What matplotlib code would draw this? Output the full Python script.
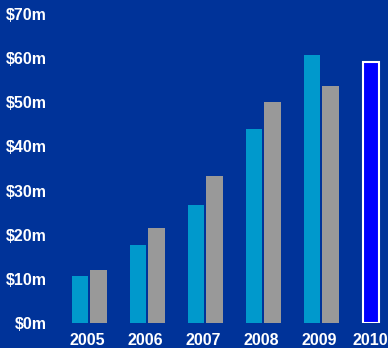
import matplotlib
matplotlib.use("Agg")
import matplotlib.pyplot as plt
import numpy as np

# values in $m
years = ["2005", "2006", "2007", "2008", "2009", "2010"]
series_a = [10.7, 17.6, 26.7, 43.9, 60.6]   # cyan bars, 2005-2009
series_b = [12.0, 21.5, 33.3, 50.0, 53.8]   # grey bars, 2005-2009
forecast_2010 = 59.1
y_ticks = [0, 10, 20, 30, 40, 50, 60, 70]
y_labels = ["$0m", "$10m", "$20m", "$30m", "$40m", "$50m", "$60m", "$70m"]

bg = "#003399"
plt.rcParams['font.family'] = ['Liberation Sans', 'DejaVu Sans']

fig = plt.figure(figsize=(3.88, 3.48), dpi=100, facecolor=bg)
ax = fig.add_axes([55 / 388, 25 / 348, 333 / 388, 309 / 348])
ax.set_facecolor(bg)

x = np.arange(len(series_a))
ax.bar(x - 0.165, series_a, width=0.29, color="#0099CC")
ax.bar(x + 0.155, series_b, width=0.28, color="#999999")
# 2010 shown as a single outlined bar
ax.bar([5 - 0.15], [forecast_2010], width=0.28, color="#0000FF",
       edgecolor="white", linewidth=1.5)

ax.set_xlim(-0.595, 5.147)
ax.set_ylim(0, 70)
ax.set_yticks(y_ticks)
ax.set_yticklabels(y_labels)
# label positions: centred under each year, 2010 under its single bar
tick_pos = list(np.arange(5) - 0.04) + [4.84]
ax.set_xticks(tick_pos)
ax.set_xticklabels(years)
ax.tick_params(length=0, colors="white", labelsize=11.5)
ax.tick_params(axis="x", pad=7)
ax.tick_params(axis="y", pad=6)
for lab in ax.get_xticklabels() + ax.get_yticklabels():
    lab.set_fontweight("bold")
for s in ax.spines.values():
    s.set_visible(False)

fig.savefig("out.png", dpi=100, facecolor=bg)
